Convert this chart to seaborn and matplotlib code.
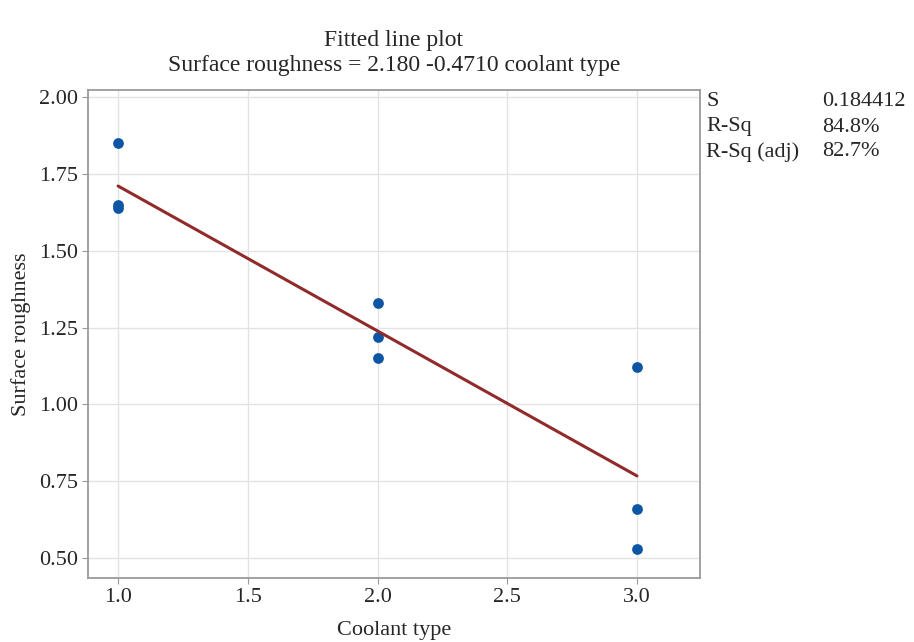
import numpy as np
import pandas as pd
import seaborn as sns
import matplotlib.pyplot as plt

# Data
coolant_type = [1, 1, 1, 2, 2, 2, 3, 3, 3]
roughness = [1.85, 1.65, 1.64, 1.33, 1.22, 1.15, 1.12, 0.66, 0.53]
x_ticks = [1.0, 1.5, 2.0, 2.5, 3.0]
x_tick_labels = ['1.0', '1.5', '2.0', '2.5', '3.0']
y_ticks = [0.50, 0.75, 1.00, 1.25, 1.50, 1.75, 2.00]
stat_names = ['S', 'R-Sq', 'R-Sq (adj)']
stat_values = ['0.184412', '84.8%', '82.7%']

df = pd.DataFrame({'Coolant type': coolant_type, 'Surface roughness': roughness})

sns.set_style('whitegrid')
plt.rcParams['font.family'] = ['Liberation Serif', 'DejaVu Serif']

fig = plt.figure(figsize=(9.14, 6.42), dpi=100)
ax = fig.add_axes([88 / 914, 1 - 578 / 642, (700 - 88) / 914, (578 - 90) / 642])

sns.regplot(data=df, x='Coolant type', y='Surface roughness', ax=ax, ci=None,
            truncate=True,
            scatter_kws={'color': '#0d56a3', 's': 60, 'alpha': 1, 'linewidths': 0},
            line_kws={'color': '#912a2a', 'lw': 2.2})

ax.set_xlim(0.884, 3.243)
ax.set_ylim(0.435, 2.023)
ax.set_xticks(x_ticks)
ax.set_xticklabels(x_tick_labels)
ax.set_yticks(y_ticks)
ax.set_yticklabels([f'{v:.2f}' for v in y_ticks])
ax.tick_params(labelsize=16, length=4, color='#999999', direction='out',
               bottom=True, left=True, pad=3)
ax.grid(color='#e3e3e3', lw=1)
for sp in ax.spines.values():
    sp.set_color('#9a9a9a')
    sp.set_linewidth(1.3)

ax.set_xlabel('Coolant type', fontsize=16, labelpad=10)
ax.set_ylabel('Surface roughness', fontsize=16, labelpad=6)
ax.set_title('Fitted line plot\nSurface roughness = 2.180 -0.4710 coolant type',
             fontsize=17, pad=14, linespacing=1.25)

for i, (n, v) in enumerate(zip(stat_names, stat_values)):
    y = 1 - (102 + i * 25) / 642
    fig.text(706 / 914, y, n, fontsize=16, va='center')
    fig.text(822 / 914, y, v, fontsize=16, va='center')

fig.savefig('out.png', dpi=100)
